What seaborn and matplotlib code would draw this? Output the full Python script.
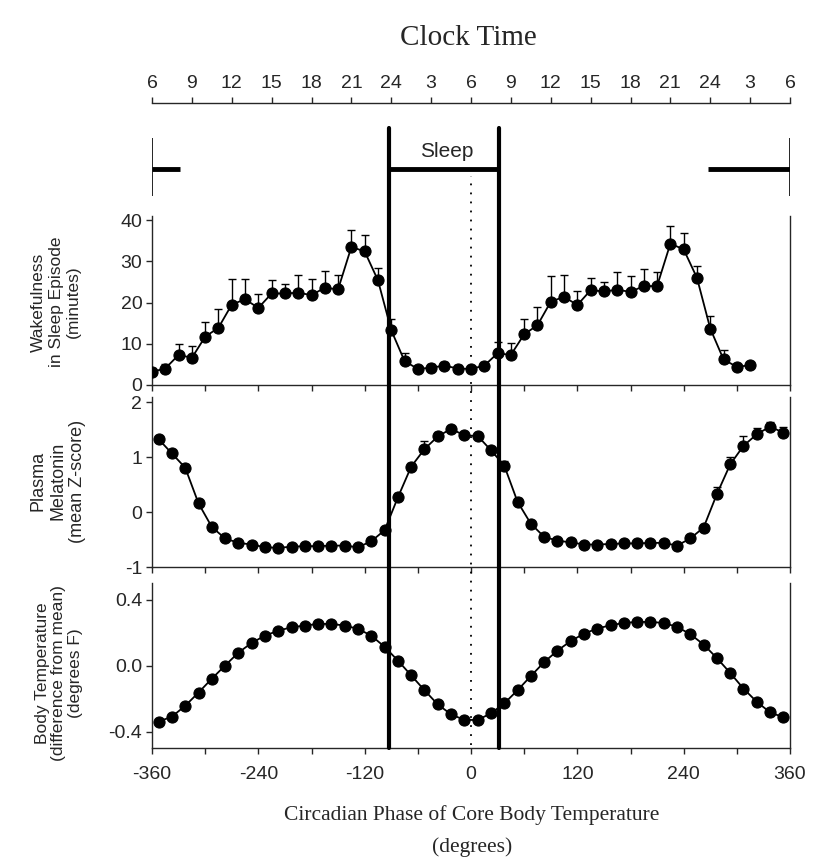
import numpy as np
import matplotlib
matplotlib.use('Agg')
import matplotlib.pyplot as plt
import matplotlib.transforms as mtransforms
from matplotlib.lines import Line2D
import seaborn as sns

sns.set_style("ticks")
plt.rcParams['font.family'] = ['Liberation Sans', 'DejaVu Sans']
plt.rcParams['axes.linewidth'] = 1.0
plt.rcParams['axes.unicode_minus'] = False

# ---- data ----
clock_labels = ['6', '9', '12', '15', '18', '21', '24', '3', '6',
                '9', '12', '15', '18', '21', '24', '3', '6']
clock_pos = list(range(-360, 361, 45))

sleep_start = -93
sleep_end = 32

wake_phase = list(range(-360, 316, 15))
wake_min = [3.2, 4.0, 7.3, 6.6, 11.7, 13.9, 19.5, 20.8, 18.7, 22.2, 22.2, 22.4, 21.8,
            23.6, 23.2, 33.5, 32.4, 25.4, 13.3, 5.8, 3.9, 4.2, 4.7, 4.0, 3.9,
            4.7, 7.7, 7.3, 12.3, 14.5, 20.2, 21.4, 19.4, 23.0, 22.7, 23.1, 22.6,
            24.0, 24.0, 34.3, 32.9, 26.0, 13.7, 6.2, 4.4, 4.8]
wake_err = [1.0, 1.0, 2.6, 2.9, 3.5, 4.5, 6.1, 5.0, 3.3, 3.2, 2.4, 4.2, 3.8,
            4.0, 3.4, 4.2, 3.9, 3.0, 2.8, 2.0, 0.8, 0.8, 0.8, 0.8, 0.8,
            1.0, 2.8, 2.8, 3.6, 4.5, 6.2, 5.2, 3.3, 2.9, 2.4, 4.2, 3.8,
            4.2, 3.3, 4.2, 4.0, 2.9, 3.1, 2.3, 0.8, 0.8]

phase = [-352.5 + 15 * i for i in range(48)]
melatonin = [1.33, 1.07, 0.81, 0.16, -0.27, -0.48, -0.56, -0.59, -0.64, -0.65, -0.63, -0.62,
             -0.62, -0.61, -0.61, -0.64, -0.53, -0.33, 0.27, 0.83, 1.15, 1.38, 1.52, 1.40,
             1.39, 1.13, 0.85, 0.19, -0.21, -0.45, -0.52, -0.55, -0.59, -0.59, -0.58, -0.57,
             -0.57, -0.56, -0.56, -0.61, -0.48, -0.28, 0.33, 0.87, 1.21, 1.42, 1.56, 1.45]
mel_err = [0.06, 0.06, 0.07, 0.06, 0.04, 0.04, 0.04, 0.04, 0.04, 0.04, 0.04, 0.04,
           0.04, 0.04, 0.04, 0.04, 0.04, 0.04, 0.08, 0.07, 0.14, 0.08, 0.06, 0.05,
           0.06, 0.05, 0.08, 0.07, 0.04, 0.04, 0.04, 0.04, 0.04, 0.04, 0.04, 0.04,
           0.04, 0.04, 0.04, 0.04, 0.04, 0.05, 0.12, 0.13, 0.17, 0.12, 0.08, 0.11]

body_temp = [-0.34, -0.31, -0.244, -0.164, -0.08, 0.0, 0.078, 0.137, 0.181, 0.211, 0.232, 0.242,
             0.252, 0.252, 0.242, 0.222, 0.181, 0.113, 0.03, -0.06, -0.15, -0.236, -0.296, -0.33,
             -0.33, -0.29, -0.23, -0.15, -0.064, 0.02, 0.09, 0.148, 0.193, 0.224, 0.244, 0.258,
             0.264, 0.264, 0.258, 0.234, 0.19, 0.127, 0.045, -0.045, -0.14, -0.22, -0.284, -0.314]

# ---- layout (pixel based) ----
W, H = 827, 858
fig = plt.figure(figsize=(W / 100, H / 100), dpi=100)


def px_rect(left, top, right, bottom):
    return [left / W, 1 - bottom / H, (right - left) / W, (bottom - top) / H]


ax_clock = fig.add_axes(px_rect(152, 103, 790, 110))
ax_sleep = fig.add_axes(px_rect(152, 128, 790, 200))
ax1 = fig.add_axes(px_rect(152, 216, 790, 385))
ax2 = fig.add_axes(px_rect(152, 397, 790, 567))
ax3 = fig.add_axes(px_rect(152, 583, 790, 748))

# clock time axis
ax_clock.set_xlim(-360, 360)
ax_clock.set_ylim(0, 1)
for s in ['left', 'right', 'bottom']:
    ax_clock.spines[s].set_visible(False)
ax_clock.set_yticks([])
ax_clock.xaxis.tick_top()
ax_clock.set_xticks(clock_pos)
ax_clock.set_xticklabels(clock_labels, fontsize=14)
ax_clock.tick_params(axis='x', direction='out', length=4, width=1, pad=4)
ax_clock.patch.set_alpha(0)
fig.text(468 / W, 1 - 38 / H, 'Clock Time', ha='center', va='center',
         fontsize=21, family=['Liberation Serif', 'DejaVu Serif'])

# sleep bar panel
ax_sleep.set_xlim(-360, 360)
ax_sleep.set_ylim(0, 1)
ax_sleep.axis('off')
ax_sleep.hlines(0.43, sleep_start, sleep_end, color='black', lw=3.5)
ax_sleep.hlines(0.43, -360, sleep_end - 360, color='black', lw=3.5)
ax_sleep.hlines(0.43, sleep_start + 360, 360, color='black', lw=3.5)
ax_sleep.vlines([-360, 360], 0.06, 0.86, color='black', lw=1.2)
ax_sleep.text(-27, 0.67, 'Sleep', ha='center', va='center', fontsize=15)

line_kw = dict(color='black', marker='o', markersize=8, linewidth=1.3,
               markeredgecolor='black', markeredgewidth=0.8)
err_kw = dict(fmt='none', ecolor='black', elinewidth=1.0, capsize=3, capthick=1.0, zorder=1)

# panel 1: wakefulness
sns.lineplot(x=wake_phase, y=wake_min, ax=ax1, zorder=3, **line_kw)
ax1.errorbar(wake_phase, wake_min, yerr=[np.zeros(len(wake_err)), wake_err], **err_kw)
ax1.set_ylim(0, 41)
ax1.set_yticks([0, 10, 20, 30, 40])

# panel 2: melatonin
sns.lineplot(x=phase, y=melatonin, ax=ax2, zorder=3, **line_kw)
ax2.errorbar(phase, melatonin, yerr=[np.zeros(len(mel_err)), mel_err], **err_kw)
ax2.set_ylim(-1, 2.1)
ax2.set_yticks([-1, 0, 1, 2])

# panel 3: body temperature
sns.lineplot(x=phase, y=body_temp, ax=ax3, zorder=3, **line_kw)
ax3.set_ylim(-0.5, 0.5)
ax3.set_yticks([-0.4, 0.0, 0.4])
ax3.set_yticklabels(['-0.4', '0.0', '0.4'])

for ax in [ax1, ax2, ax3]:
    ax.set_xlim(-360, 360)
    ax.spines['top'].set_visible(False)
    ax.spines['right'].set_visible(True)
    ax.set_xticks(range(-360, 361, 60))
    ax.tick_params(axis='both', direction='out', length=4, width=1, labelsize=14, pad=3)
    ax.set_xlabel('')
    ax.set_ylabel('')
    ax.patch.set_alpha(0)

for ax in [ax1, ax2]:
    ax.set_xticklabels([])

ax3.set_xticklabels([str(v) if v % 120 == 0 else '' for v in range(-360, 361, 60)], fontsize=14)
ax3.tick_params(axis='x', pad=9)

# y labels
fig.text(56 / W, 1 - 302 / H, 'Wakefulness\nin Sleep Episode\n(minutes)', rotation=90,
         ha='center', va='center', fontsize=12.5, linespacing=1.2)
fig.text(58 / W, 1 - 481 / H, 'Plasma\nMelatonin\n(mean Z-score)', rotation=90,
         ha='center', va='center', fontsize=13, linespacing=1.2)
fig.text(59 / W, 1 - 673 / H, 'Body Temperature\n(difference from mean)\n(degrees F)', rotation=90,
         ha='center', va='center', fontsize=12.5, linespacing=1.15)

# x label
fig.text(472 / W, 1 - 815 / H, 'Circadian Phase of Core Body Temperature', ha='center', va='center',
         fontsize=15.5, family=['Liberation Serif', 'DejaVu Serif'])
fig.text(472 / W, 1 - 847 / H, '(degrees)', ha='center', va='center',
         fontsize=15.5, family=['Liberation Serif', 'DejaVu Serif'])

# sleep boundaries and 0 phase line across panels
trans = mtransforms.blended_transform_factory(ax3.transData, fig.transFigure)
for xv in [sleep_start, sleep_end]:
    fig.add_artist(Line2D([xv, xv], [1 - 748 / H, 1 - 128 / H], transform=trans,
                          color='black', lw=3.0, zorder=10))
fig.add_artist(Line2D([0, 0], [1 - 745 / H, 1 - 176 / H], transform=trans,
                      color='black', lw=1.3, linestyle=(0, (1, 4)), zorder=10))

fig.savefig('out.png', dpi=100)
